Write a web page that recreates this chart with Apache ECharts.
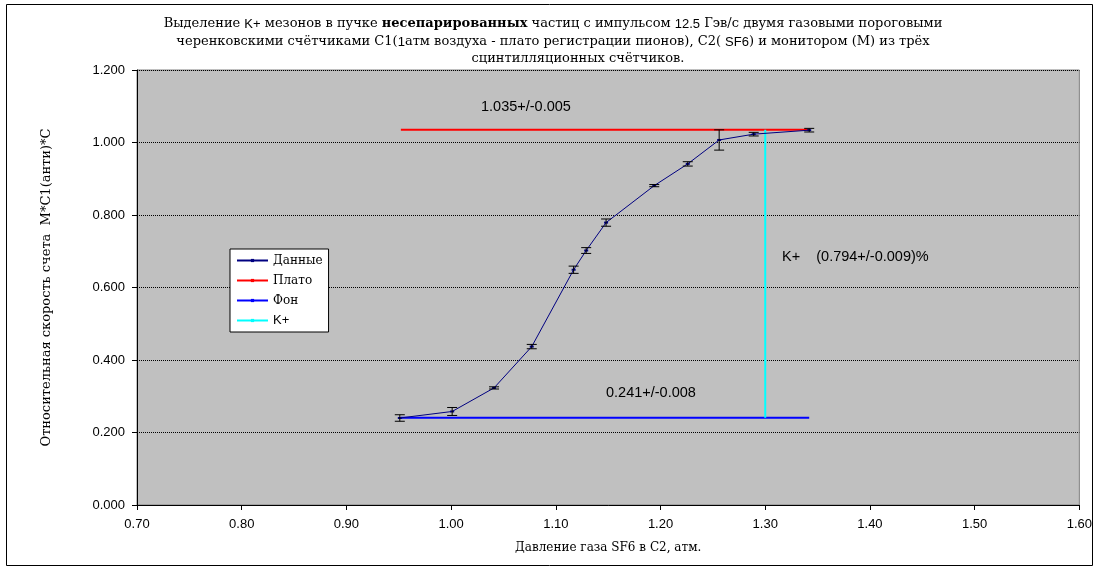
<!DOCTYPE html>
<html>
<head>
<meta charset="utf-8">
<script src="https://cdn.jsdelivr.net/npm/echarts@6/dist/echarts.min.js"></script>
<style>
  html, body { margin: 0; padding: 0; background: #fff; }
  #chart { width: 1095px; height: 569px; }
</style>
</head>
<body>
<div id="chart"></div>
<script>
// данные: давление SF6 в C2 (атм) и относительная скорость счета
var pressure = [0.951, 1.001, 1.041, 1.077, 1.117, 1.129, 1.148, 1.194, 1.226, 1.256, 1.289, 1.342];
var rate = [0.240, 0.258, 0.323, 0.437, 0.649, 0.702, 0.779, 0.881, 0.941, 1.007, 1.023, 1.034];
var rateErr = [0.009, 0.011, 0.003, 0.006, 0.010, 0.008, 0.010, 0.003, 0.006, 0.028, 0.005, 0.005];

// плато, фон и K+
var plateauX = [0.952, 1.342];
var plateauY = 1.035;
var backgroundX = [0.952, 1.342];
var backgroundY = 0.241;
var kplusX = 1.30;

var xTicks = [0.70, 0.80, 0.90, 1.00, 1.10, 1.20, 1.30, 1.40, 1.50, 1.60];
var yTicks = [0.0, 0.2, 0.4, 0.6, 0.8, 1.0, 1.2];

var serif = '"DejaVu Serif", "Liberation Serif", serif';
var sans = '"Liberation Sans", Arial, sans-serif';

var dataPts = pressure.map(function (x, i) { return [x, rate[i]]; });
var errPts = pressure.map(function (x, i) { return [x, rate[i] - rateErr[i], rate[i] + rateErr[i]]; });

let myChart = echarts.init(document.getElementById("chart"));

let option = {
    animation: false,
    backgroundColor: "#ffffff",
    grid: { left: 137, right: 14, top: 70, bottom: 64, show: true, backgroundColor: "#c0c0c0", borderColor: "#808080", borderWidth: 1 },
    xAxis: {
        type: "value",
        min: xTicks[0],
        max: xTicks[xTicks.length - 1],
        interval: 0.1,
        name: "Давление газа SF6 в C2, атм.",
        nameLocation: "middle",
        nameGap: 37,
        nameTextStyle: { fontFamily: serif, fontSize: 12, color: "#000" },
        axisLine: { lineStyle: { color: "#000", width: 1 } },
        axisTick: { show: true, length: 5, lineStyle: { color: "#000" } },
        axisLabel: { fontFamily: sans, fontSize: 13, color: "#000", margin: 13, formatter: function (v) { return v.toFixed(2); } },
        splitLine: { show: false }
    },
    yAxis: {
        type: "value",
        min: yTicks[0],
        max: yTicks[yTicks.length - 1],
        interval: 0.2,
        name: "Относительная скорость счета  M*C1(анти)*C",
        nameLocation: "middle",
        nameRotate: 90,
        nameGap: 84,
        nameTextStyle: { fontFamily: serif, fontSize: 13, color: "#000" },
        axisLine: { show: true, lineStyle: { color: "#000", width: 1 } },
        axisTick: { show: true, length: 5, lineStyle: { color: "#000" } },
        axisLabel: { fontFamily: sans, fontSize: 13, color: "#000", margin: 12, formatter: function (v) { return v.toFixed(3); } },
        splitLine: { show: true, lineStyle: { color: "#000", type: [1, 1], width: 1 } }
    },
    legend: {
        orient: "vertical",
        left: 230,
        top: 249,
        padding: [4, 6, 4, 6],
        itemGap: 5,
        itemWidth: 31,
        itemHeight: 4,
        backgroundColor: "#fff",
        borderColor: "#000",
        borderWidth: 1,
        borderRadius: 0,
        textStyle: { fontFamily: serif, fontSize: 12, color: "#000", lineHeight: 15 },
        data: ["Данные", "Плато", "Фон", { name: "K+", textStyle: { fontFamily: sans, fontSize: 13 } }]
    },
    graphic: [
        {
            type: "rect", silent: true, z: -10,
            shape: { x: 6.5, y: 4.5, width: 1086, height: 561 },
            style: { fill: "none", stroke: "#000", lineWidth: 1 }
        },
        {
            type: "text", x: 553, y: 24, silent: true,
            style: {
                text: "Выделение {s|K+} мезонов в пучке {b|несепарированных} частиц с импульсом {s|12.5} Гэв/с двумя газовыми пороговыми",
                align: "center", verticalAlign: "middle",
                font: "13px " + serif, fill: "#000",
                rich: {
                    s: { fontFamily: sans, fontSize: 13 },
                    b: { fontFamily: serif, fontSize: 13, fontWeight: "bold" }
                }
            }
        },
        {
            type: "text", x: 553, y: 42, silent: true,
            style: {
                text: "черенковскими счётчиками C1({s|1}атм воздуха - плато регистрации пионов), C2( {s|SF6}) и монитором (M) из трёх",
                align: "center", verticalAlign: "middle",
                font: "13px " + serif, fill: "#000",
                rich: { s: { fontFamily: sans, fontSize: 13 } }
            }
        },
        {
            type: "text", x: 578, y: 59, silent: true,
            style: { text: "сцинтилляционных счётчиков.", align: "center", verticalAlign: "middle", font: "13px " + serif, fill: "#000" }
        },
        {
            type: "text", x: 481, y: 107, silent: true,
            style: { text: "1.035+/-0.005", verticalAlign: "middle", font: "14.5px " + sans, fill: "#000" }
        },
        {
            type: "text", x: 606, y: 393, silent: true,
            style: { text: "0.241+/-0.008", verticalAlign: "middle", font: "14.5px " + sans, fill: "#000" }
        },
        {
            type: "text", x: 782, y: 257, silent: true,
            style: { text: "K+    (0.794+/-0.009)%", verticalAlign: "middle", font: "14.5px " + sans, fill: "#000" }
        }
    ],
    series: [
        {
            name: "Данные",
            type: "line",
            data: dataPts,
            symbol: "rect",
            symbolSize: [4, 2],
            itemStyle: { color: "#000080" },
            lineStyle: { color: "#000080", width: 1 },
            z: 5
        },
        {
            name: "Плато",
            type: "line",
            data: [[plateauX[0], plateauY], [plateauX[1], plateauY]],
            symbol: "rect",
            showSymbol: false,
            lineStyle: { color: "#ff0000", width: 2 },
            itemStyle: { color: "#ff0000" },
            z: 3
        },
        {
            name: "Фон",
            type: "line",
            data: [[backgroundX[0], backgroundY], [backgroundX[1], backgroundY]],
            symbol: "rect",
            showSymbol: false,
            lineStyle: { color: "#0000ff", width: 2 },
            itemStyle: { color: "#0000ff" },
            z: 3
        },
        {
            name: "K+",
            type: "line",
            data: [[kplusX, backgroundY], [kplusX, plateauY]],
            symbol: "rect",
            showSymbol: false,
            lineStyle: { color: "#00ffff", width: 2 },
            itemStyle: { color: "#00ffff" },
            z: 3
        },
        {
            name: "err",
            type: "custom",
            data: errPts,
            z: 6,
            renderItem: function (params, api) {
                var lo = api.coord([api.value(0), api.value(1)]);
                var hi = api.coord([api.value(0), api.value(2)]);
                var w = 5;
                var st = { stroke: "#000", lineWidth: 1, fill: null };
                return {
                    type: "group",
                    children: [
                        { type: "line", shape: { x1: lo[0], y1: lo[1], x2: hi[0], y2: hi[1] }, style: st },
                        { type: "line", shape: { x1: lo[0] - w, y1: lo[1], x2: lo[0] + w, y2: lo[1] }, style: st },
                        { type: "line", shape: { x1: hi[0] - w, y1: hi[1], x2: hi[0] + w, y2: hi[1] }, style: st }
                    ]
                };
            }
        }
    ]
};

myChart.setOption(option);
</script>
</body>
</html>
